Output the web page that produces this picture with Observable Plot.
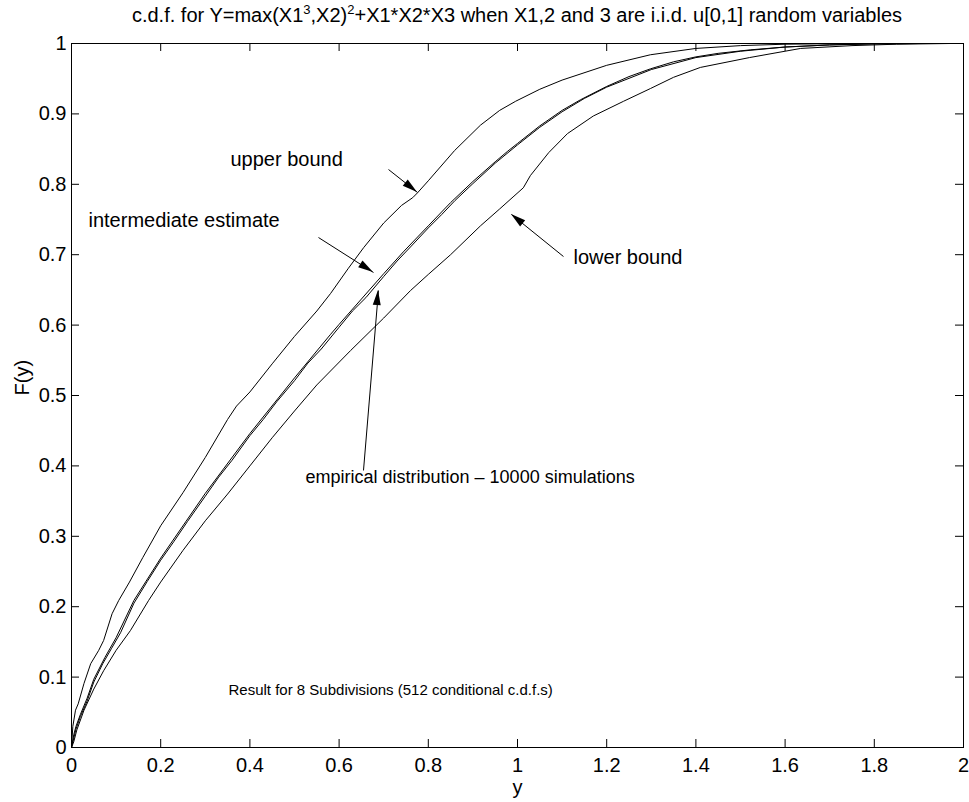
<!DOCTYPE html>
<html><head><meta charset="utf-8">
<script src="https://cdn.jsdelivr.net/npm/d3@7"></script>
<script src="https://cdn.jsdelivr.net/npm/@observablehq/plot@0.6"></script>
<style>
body{margin:0;background:#fff;}
#title{width:969px;box-sizing:border-box;padding-left:65px;height:30px;line-height:30px;text-align:center;font-size:20px;font-family:"Liberation Sans",Arial,sans-serif;color:#000;white-space:nowrap;}
#title sup{font-size:13px;vertical-align:baseline;position:relative;top:-8px;}
</style></head>
<body>
<div id="title">c.d.f. for Y=max(X1<sup>3</sup>,X2)<sup>2</sup>+X1*X2*X3 when X1,2 and 3 are i.i.d. u[0,1] random variables</div>
<div id="chart"></div>
<script>
// ---- data ----
const upperY = [0, 0.003, 0.009, 0.015, 0.028, 0.043, 0.061, 0.072, 0.091, 0.106, 0.13, 0.16, 0.2, 0.25, 0.3, 0.35, 0.37, 0.4, 0.45, 0.5, 0.55, 0.581, 0.62, 0.655, 0.7, 0.74, 0.765, 0.776, 0.8, 0.859, 0.917, 0.96, 0.996, 1.05, 1.1, 1.2, 1.298, 1.4, 1.5, 1.6, 1.75, 2];
const upperF = [0, 0.03, 0.053, 0.062, 0.091, 0.119, 0.138, 0.152, 0.19, 0.209, 0.235, 0.27, 0.315, 0.362, 0.412, 0.466, 0.485, 0.505, 0.545, 0.584, 0.62, 0.645, 0.68, 0.71, 0.745, 0.77, 0.781, 0.788, 0.805, 0.848, 0.884, 0.905, 0.918, 0.935, 0.948, 0.969, 0.984, 0.993, 0.997, 0.999, 1, 1];

const interY = [0, 0.005, 0.01, 0.02, 0.035, 0.05, 0.075, 0.1, 0.14, 0.2, 0.3, 0.4, 0.5, 0.581, 0.6, 0.65, 0.7, 0.744, 0.8, 0.85, 0.9, 0.95, 0.978, 1.0, 1.05, 1.1, 1.141, 1.2, 1.25, 1.298, 1.35, 1.4, 1.45, 1.522, 1.6, 1.7, 1.8, 1.9, 2];
const interF = [0, 0.018, 0.03, 0.047, 0.07, 0.097, 0.128, 0.156, 0.209, 0.269, 0.361, 0.446, 0.525, 0.587, 0.601, 0.637, 0.673, 0.704, 0.741, 0.774, 0.804, 0.832, 0.847, 0.858, 0.883, 0.905, 0.92, 0.939, 0.953, 0.964, 0.974, 0.981, 0.986, 0.991, 0.995, 0.998, 0.9995, 1, 1];

const empY = [0, 0.01, 0.02, 0.035, 0.05, 0.07, 0.09, 0.11, 0.14, 0.17, 0.2, 0.23, 0.26, 0.3, 0.33, 0.36, 0.4, 0.43, 0.46, 0.5, 0.53, 0.56, 0.6, 0.63, 0.66, 0.7, 0.73, 0.76, 0.8, 0.83, 0.86, 0.9, 0.95, 1.0, 1.05, 1.1, 1.15, 1.2, 1.3, 1.4, 1.5, 1.6, 1.7, 1.8, 1.9, 2.0];
const empF = [0, 0.026, 0.044, 0.066, 0.093, 0.119, 0.141, 0.163, 0.205, 0.236, 0.266, 0.293, 0.321, 0.357, 0.384, 0.408, 0.443, 0.466, 0.491, 0.521, 0.546, 0.566, 0.597, 0.62, 0.639, 0.669, 0.691, 0.711, 0.738, 0.757, 0.777, 0.801, 0.83, 0.856, 0.881, 0.903, 0.922, 0.938, 0.963, 0.98, 0.989, 0.995, 0.998, 0.9995, 1, 1];

const lowerY = [0, 0.005, 0.012, 0.028, 0.05, 0.072, 0.1, 0.132, 0.173, 0.2, 0.25, 0.3, 0.35, 0.4, 0.45, 0.5, 0.55, 0.626, 0.7, 0.76, 0.8, 0.85, 0.917, 0.96, 0.99, 1.013, 1.029, 1.07, 1.112, 1.17, 1.238, 1.298, 1.35, 1.41, 1.52, 1.635, 1.75, 1.85, 1.97, 2];
const lowerF = [0, 0.008, 0.025, 0.053, 0.083, 0.109, 0.138, 0.166, 0.209, 0.235, 0.28, 0.322, 0.36, 0.4, 0.44, 0.478, 0.515, 0.564, 0.61, 0.649, 0.672, 0.7, 0.741, 0.765, 0.782, 0.795, 0.8125, 0.845, 0.872, 0.897, 0.918, 0.936, 0.952, 0.966, 0.98, 0.993, 0.997, 0.999, 1, 1];

const xTicks = [0, 0.2, 0.4, 0.6, 0.8, 1, 1.2, 1.4, 1.6, 1.8, 2];
const xTickLabels = ["0", "0.2", "0.4", "0.6", "0.8", "1", "1.2", "1.4", "1.6", "1.8", "2"];
const yTicks = [0, 0.1, 0.2, 0.3, 0.4, 0.5, 0.6, 0.7, 0.8, 0.9, 1];
const yTickLabels = ["0", "0.1", "0.2", "0.3", "0.4", "0.5", "0.6", "0.7", "0.8", "0.9", "1"];

const noteText = ["upper bound", "intermediate estimate", "lower bound", "empirical distribution \u2013 10000 simulations", "Result for 8 Subdivisions (512 conditional c.d.f.s)"];
const noteX = [0.3565, 0.0381, 1.1256, 0.5247, 0.352];
const noteF = [0.835, 0.7486, 0.696, 0.3835, 0.081];
const noteSize = [20, 20, 20, 18, 15];

// arrows: from (x1,y1) to tip (x2,y2)
const arrowX1 = [0.7108, 0.5538, 1.1031, 0.6547];
const arrowF1 = [0.8210, 0.7244, 0.6974, 0.3935];
const arrowX2 = [0.7758, 0.6771, 0.9865, 0.6883];
const arrowF2 = [0.7884, 0.6747, 0.7571, 0.6491];

// ---- build tables ----
const toRows = (ys, fs) => ys.map((y, i) => ({y, F: fs[i]}));
const series = [toRows(upperY, upperF), toRows(interY, interF), toRows(empY, empF), toRows(lowerY, lowerF)];
const notes = noteText.map((t, i) => ({t, x: noteX[i], F: noteF[i], s: noteSize[i]}));
const arrows = arrowX1.map((x1, i) => ({x1, y1: arrowF1[i], x2: arrowX2[i], y2: arrowF2[i]}));

const arrowHeads = (index, scales) => {
  const g = d3.create("svg:g");
  for (const a of arrows) {
    const x1 = scales.x(a.x1), y1 = scales.y(a.y1), x2 = scales.x(a.x2), y2 = scales.y(a.y2);
    const ang = Math.atan2(y2 - y1, x2 - x1);
    const L = 15, W = 4;
    const bx = x2 - L * Math.cos(ang), by = y2 - L * Math.sin(ang);
    const px = -Math.sin(ang) * W, py = Math.cos(ang) * W;
    g.append("path").attr("d", `M${x2},${y2}L${bx + px},${by + py}L${bx - px},${by - py}Z`).attr("fill", "black");
  }
  return g.node();
};

// inward tick marks on all four sides (MATLAB style), drawn with Plot's rule marks
const tickLen = 8;
const chartW = 969, chartH = 772, mT = 13, mB = 55, mL = 71, mR = 6;
const frameW = chartW - mL - mR, frameH = chartH - mT - mB;

const font = "Liberation Sans, Arial, sans-serif";
const chart = Plot.plot({
  width: chartW, height: chartH,
  marginTop: mT, marginBottom: mB, marginLeft: mL, marginRight: mR,
  style: {fontFamily: font, fontSize: "20px", color: "black", background: "white"},
  x: {domain: [0, 2]},
  y: {domain: [0, 1]},
  marks: [
    ...series.map(s => Plot.line(s, {x: "y", y: "F", stroke: "black", strokeWidth: 1})),
    Plot.frame({stroke: "black", strokeWidth: 1}),
    Plot.ruleX(xTicks, {x: d => d, stroke: "black", strokeWidth: 1, insetTop: frameH - tickLen}),
    Plot.ruleX(xTicks, {x: d => d, stroke: "black", strokeWidth: 1, insetBottom: frameH - tickLen}),
    Plot.ruleY(yTicks, {y: d => d, stroke: "black", strokeWidth: 1, insetRight: frameW - tickLen}),
    Plot.ruleY(yTicks, {y: d => d, stroke: "black", strokeWidth: 1, insetLeft: frameW - tickLen}),
    Plot.axisX({anchor: "bottom", ticks: xTicks, tickSize: 0, tickPadding: 10, fontSize: 20, tickFormat: (d, i) => xTickLabels[i], label: null}),
    Plot.axisY({anchor: "left", ticks: yTicks, tickSize: 0, tickPadding: 5, fontSize: 20, tickFormat: (d, i) => yTickLabels[i], label: null}),
    Plot.text(["y"], {frameAnchor: "bottom", dy: 40, fontSize: 20, lineAnchor: "middle", fill: "black"}),
    Plot.text(["F(y)"], {frameAnchor: "left", dx: -49, rotate: -90, fontSize: 20, lineAnchor: "middle", fill: "black"}),
    ...notes.map(n => Plot.text([n], {x: "x", y: "F", text: "t", textAnchor: "start", lineAnchor: "middle", fontSize: n.s, fill: "black"})),
    Plot.link(arrows, {x1: "x1", y1: "y1", x2: "x2", y2: "y2", stroke: "black", strokeWidth: 1}),
    arrowHeads
  ]
});
document.getElementById("chart").appendChild(chart);
</script>
</body></html>
